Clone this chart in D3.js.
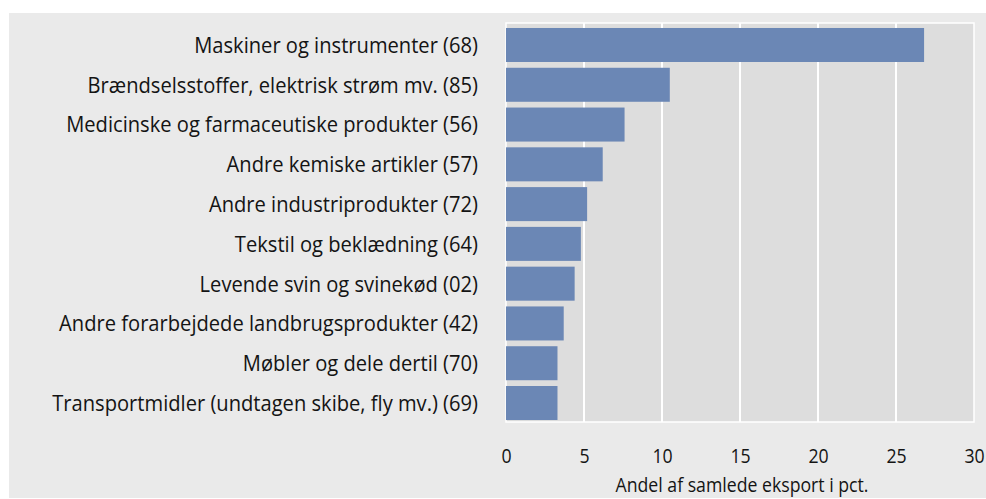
<!DOCTYPE html>
<html>
<head>
<meta charset="utf-8">
<script src="https://cdn.jsdelivr.net/npm/d3@7"></script>
<style>
  body { margin: 0; background: #fff; }
  svg text { font-family: "Open Sans", "Noto Sans", sans-serif; fill: #141414; }
</style>
</head>
<body>
<svg id="chart" width="986" height="499"></svg>
<script>
var categories = [
  "Maskiner og instrumenter (68)",
  "Brændselsstoffer, elektrisk strøm mv. (85)",
  "Medicinske og farmaceutiske produkter (56)",
  "Andre kemiske artikler (57)",
  "Andre industriprodukter (72)",
  "Tekstil og beklædning (64)",
  "Levende svin og svinekød (02)",
  "Andre forarbejdede landbrugsprodukter (42)",
  "Møbler og dele dertil (70)",
  "Transportmidler (undtagen skibe, fly mv.) (69)"
]
var shares = [26.8, 10.5, 7.6, 6.2, 5.2, 4.8, 4.4, 3.7, 3.3, 3.3]
var xTicks = [0, 5, 10, 15, 20, 25, 30]
var xTitle = "Andel af samlede eksport i pct."

var svg = d3.select("#chart")

// outer grey background
svg.append("rect")
  .attr("x", 9).attr("y", 13)
  .attr("width", 977).attr("height", 485)
  .attr("fill", "#eaeaea")

var panel = {left: 506, right: 974, top: 23, bottom: 422}

var x = d3.scaleLinear()
  .domain([0, 30])
  .range([panel.left, panel.right])

var y = d3.scaleBand()
  .domain(categories)
  .range([26, 422])
  .paddingInner(0.145)
  .paddingOuter(0.05)

// plot panel
svg.append("rect")
  .attr("x", panel.left).attr("y", panel.top)
  .attr("width", panel.right - panel.left)
  .attr("height", panel.bottom - panel.top)
  .attr("fill", "#dddddd")
  .attr("stroke", "#ffffff")
  .attr("stroke-width", 1.5)

// gridlines
svg.append("g")
  .selectAll("line")
  .data(xTicks.slice(1, -1))
  .enter().append("line")
  .attr("x1", function(d) { return x(d) })
  .attr("x2", function(d) { return x(d) })
  .attr("y1", panel.top)
  .attr("y2", panel.bottom)
  .attr("stroke", "#ffffff")
  .attr("stroke-width", 2)

// bars
svg.append("g")
  .selectAll("rect")
  .data(shares)
  .enter().append("rect")
  .attr("x", x(0))
  .attr("y", function(d, i) { return y(categories[i]) })
  .attr("width", function(d) { return x(d) - x(0) })
  .attr("height", y.bandwidth())
  .attr("fill", "#6b87b5")

// category labels (condensed look: squeeze the glyphs horizontally)
var yAxis = d3.axisLeft(y).tickSize(0).tickPadding(0)
var yg = svg.append("g")
  .attr("transform", "translate(478,0)")
  .call(yAxis)
yg.select(".domain").remove()
var yText = yg.selectAll("text")
  .attr("font-size", 22)
  .attr("dy", "0.36em")
var maxLen = d3.max(yText.nodes(), function(n) { return n.getComputedTextLength() })
var ky = 426 / maxLen
yText.attr("transform", "scale(" + ky + ",1)")

// x axis
var xAxis = d3.axisBottom(x).tickValues(xTicks).tickSize(0).tickPadding(0)
var xg = svg.append("g")
  .attr("transform", "translate(0,463)")
  .call(xAxis)
xg.select(".domain").remove()

var title = svg.append("g")
  .attr("transform", "translate(" + ((panel.left + panel.right) / 2 + 2) + ",492)")
  .append("text")
  .attr("text-anchor", "middle")
  .attr("font-size", 19.5)
  .text(xTitle)
var kx = 253 / title.node().getComputedTextLength()
title.attr("transform", "scale(" + kx + ",1)")

xg.selectAll("text")
  .attr("font-size", 19.5)
  .attr("dy", 0)
  .attr("fill", "#141414")
  .attr("transform", "scale(" + kx + ",1)")
</script>
</body>
</html>
